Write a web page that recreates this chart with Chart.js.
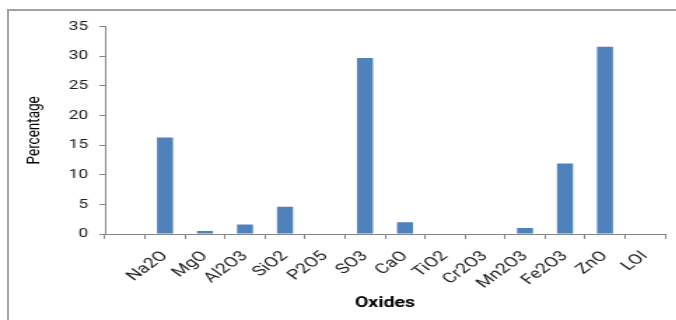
<!DOCTYPE html>
<html>
<head>
<meta charset="utf-8">
<script src="https://cdn.jsdelivr.net/npm/chart.js@4/dist/chart.umd.min.js"></script>
<style>
  html, body { margin: 0; padding: 0; background: #fff; overflow: hidden; }
  body { width: 676px; height: 320px; position: relative; }
  #frame {
    position: absolute; left: 7px; top: 9px; width: 720px; height: 360px;
    border-left: 2px solid #a3a3a3; border-top: 2px solid #a3a3a3;
    box-sizing: border-box;
  }
  /* the plot is laid out narrow and widened horizontally */
  #wrap {
    position: absolute; left: 0; top: 0; width: 483px; height: 320px;
    transform-origin: 0 0; transform: scaleX(1.4);
  }
</style>
</head>
<body>
<div id="frame"></div>
<div id="wrap"><canvas id="c"></canvas></div>
<script>
const categories = ['', 'Na2O', 'MgO', 'Al2O3', 'SiO2', 'P2O5', 'SO3', 'CaO', 'TiO2', 'Cr2O3', 'Mn2O3', 'Fe2O3', 'ZnO', 'LOI'];
const percentages = [null, 16.3, 0.5, 1.6, 4.6, 0, 29.7, 2.0, 0, 0, 1.0, 11.9, 31.6, 0];
const yTicks = [0, 5, 10, 15, 20, 25, 30, 35];

const axisColor = '#868686';
const font = 'Roboto';

new Chart(document.getElementById('c'), {
  type: 'bar',
  data: {
    labels: categories,
    datasets: [{
      data: percentages,
      backgroundColor: '#4F81BD',
      borderWidth: 0,
      barPercentage: 0.4,
      categoryPercentage: 1.0
    }]
  },
  options: {
    responsive: true,
    maintainAspectRatio: false,
    animation: false,
    layout: { padding: { left: 0, right: 8, top: 26.7, bottom: 0 } },
    plugins: { legend: { display: false }, tooltip: { enabled: false } },
    scales: {
      x: {
        grid: { display: true, drawOnChartArea: false, drawTicks: true, tickLength: 5, color: axisColor, offset: true },
        border: { color: axisColor, width: 1 },
        ticks: {
          minRotation: 45, maxRotation: 45, autoSkip: false, padding: 9,
          color: '#222', font: { family: font, size: 14 }
        },
        title: {
          display: true, text: 'Oxides', color: '#000',
          font: { family: font, size: 14, weight: 'bold' },
          padding: { top: 0, bottom: 8.5 }
        },
        afterFit: s => { s.height = 86; }
      },
      y: {
        min: 0, max: 35,
        afterBuildTicks: s => { s.ticks = yTicks.map(v => ({ value: v })); },
        grid: { display: true, drawOnChartArea: false, drawTicks: true, tickLength: 4, color: axisColor },
        border: { color: axisColor, width: 1 },
        ticks: { padding: 8, color: '#222', font: { family: font, size: 12.5 } },
        title: {
          display: true, text: 'Percentage', color: '#000',
          font: { family: font, size: 13.5 },
          padding: { top: 16.9, bottom: 0 }
        },
        afterFit: s => { s.width = 75; }
      }
    }
  }
});
</script>
</body>
</html>
